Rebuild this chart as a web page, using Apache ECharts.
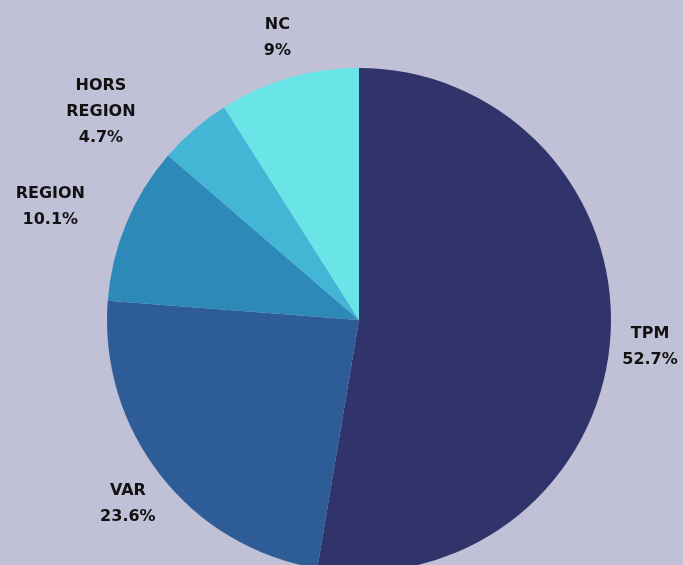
<!DOCTYPE html>
<html>
<head>
<meta charset="utf-8">
<script src="https://cdn.jsdelivr.net/npm/echarts@6/dist/echarts.min.js"></script>
<style>
  html, body { margin: 0; padding: 0; background: #c0c0d6; }
  #chart { width: 683px; height: 565px; }
</style>
</head>
<body>
<div id="chart"></div>
<script>
// categories and shares (%), clockwise from 12 o'clock
const categories = ['TPM', 'VAR', 'REGION', 'HORS REGION', 'NC'];
const shares = [52.7, 23.6, 10.1, 4.7, 9];
const sliceColors = ['#30346b', '#2d5c96', '#2d8ab8', '#43b5d5', '#69e5e8'];
// nudges for the outside labels, [dx, dy] in px
const labelNudge = [[5, 3], [-4, 10], [-48, -5], [-62, -4], [2, -11]];

const chart = echarts.init(document.getElementById('chart'));

chart.setOption({
  backgroundColor: '#c0c0d6',
  animation: false,
  series: [
    {
      type: 'pie',
      center: [359, 320],
      radius: 252,
      startAngle: 90,
      clockwise: true,
      data: categories.map((name, i) => ({
        name: name,
        value: shares[i],
        itemStyle: { color: sliceColors[i] }
      })),
      label: {
        show: true,
        position: 'outside',
        formatter: p => p.name.replace(' ', '\n') + '\n' + p.value + '%',
        color: '#111',
        fontFamily: 'DejaVu Sans',
        fontWeight: 'bold',
        fontSize: 16,
        lineHeight: 26,
        align: 'center',
        overflow: 'none'
      },
      labelLine: { show: false, length: 30, length2: 0 },
      labelLayout: p => ({
        align: 'center',
        verticalAlign: 'middle',
        dx: labelNudge[p.dataIndex][0],
        dy: labelNudge[p.dataIndex][1]
      })
    }
  ]
});
</script>
</body>
</html>
